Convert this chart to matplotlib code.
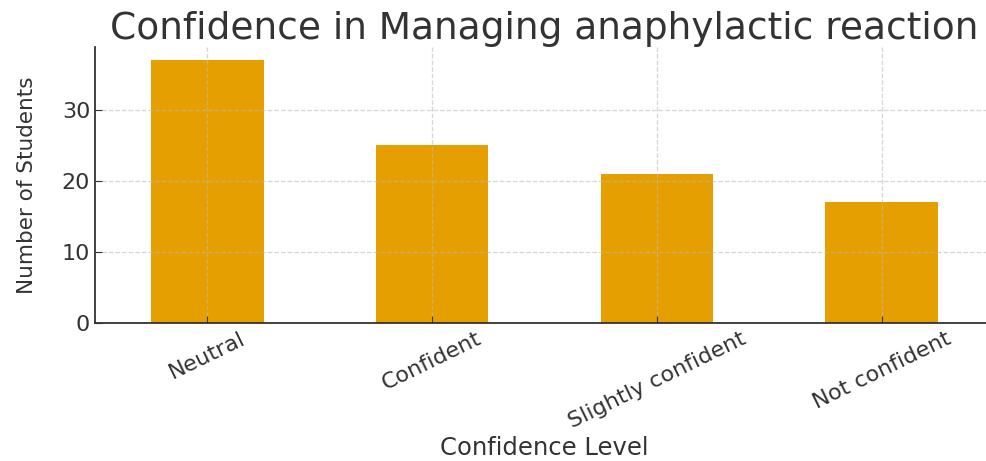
import matplotlib
matplotlib.use("Agg")
import matplotlib.pyplot as plt

plt.rcParams["font.family"] = ["DejaVu Sans"]

levels = ["Neutral", "Confident", "Slightly confident", "Not confident"]
students = [37, 25, 21, 17]

text_col = "#333333"

fig = plt.figure(figsize=(9.86, 4.61), dpi=100)
ax = fig.add_axes([95 / 986, 1 - 323 / 461, (994 - 95) / 986, (323 - 47) / 461])

ax.bar(levels, students, width=0.5, color="#E69F00")
ax.set_xlim(-0.5, 3.5)
ax.set_ylim(0, 38.85)
ax.set_yticks([0, 10, 20, 30])

ax.grid(True, linestyle="--", color="#bbbbbb", alpha=0.6, linewidth=0.9)

ax.spines["top"].set_visible(False)
ax.spines["right"].set_visible(False)
for s in ("left", "bottom"):
    ax.spines[s].set_color("#333333")
    ax.spines[s].set_linewidth(1.3)

ax.tick_params(axis="both", direction="in", colors="#333333", labelcolor=text_col,
               length=5)
ax.tick_params(axis="y", labelsize=16)
ax.tick_params(axis="x", labelsize=16, pad=4)
plt.setp(ax.get_xticklabels(), rotation=26, ha="center")

ax.set_title("Confidence in Managing anaphylactic reaction", fontsize=27,
             color=text_col, pad=3)
ax.set_xlabel("Confidence Level", fontsize=17.5, color=text_col, labelpad=3)
ax.set_ylabel("Number of Students", fontsize=15.5, color=text_col, labelpad=18)

fig.savefig("out.png", dpi=100)
